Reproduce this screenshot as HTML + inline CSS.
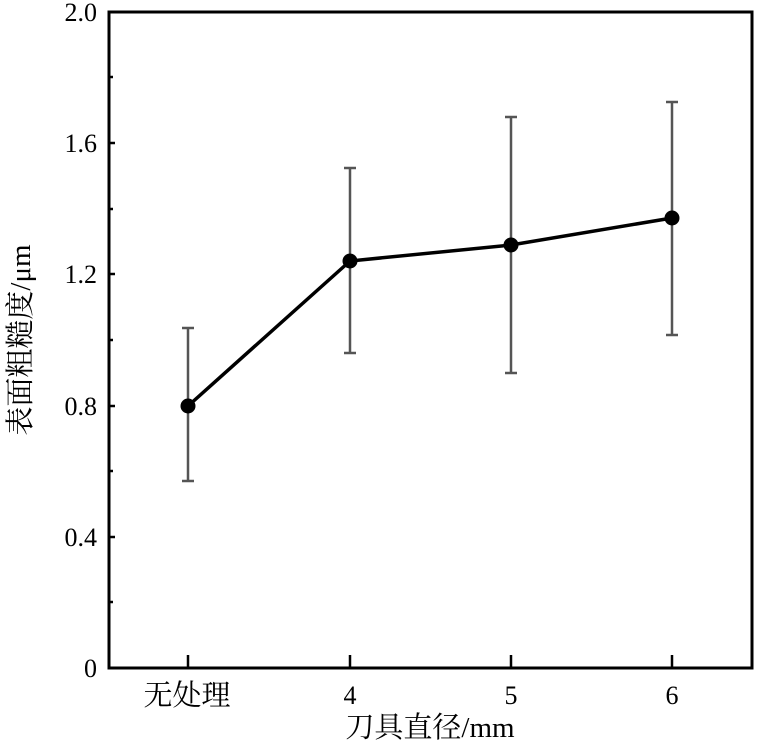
<!DOCTYPE html><html><head><style>body{margin:0;background:#fff}</style></head><body>
<svg width="768" height="744" xmlns="http://www.w3.org/2000/svg" font-family="'Liberation Serif','Noto Serif CJK SC',serif">
<rect x="109" y="12" width="643" height="656" fill="none" stroke="#000" stroke-width="3"/>
<g stroke="#000" stroke-width="2.5">
<line x1="188" y1="668" x2="188" y2="655"/><line x1="350" y1="668" x2="350" y2="655"/><line x1="511" y1="668" x2="511" y2="655"/><line x1="672" y1="668" x2="672" y2="655"/>
<line x1="109" y1="602" x2="113" y2="602"/><line x1="109" y1="537" x2="115" y2="537"/><line x1="109" y1="471" x2="113" y2="471"/><line x1="109" y1="406" x2="115" y2="406"/><line x1="109" y1="340" x2="113" y2="340"/><line x1="109" y1="274" x2="115" y2="274"/><line x1="109" y1="209" x2="113" y2="209"/><line x1="109" y1="143" x2="115" y2="143"/><line x1="109" y1="77" x2="113" y2="77"/>
</g>
<g stroke="#555" stroke-width="2.5">
<line x1="188" y1="328" x2="188" y2="481"/><line x1="182" y1="328" x2="194" y2="328"/><line x1="182" y1="481" x2="194" y2="481"/>
<line x1="350" y1="168" x2="350" y2="353"/><line x1="344" y1="168" x2="356" y2="168"/><line x1="344" y1="353" x2="356" y2="353"/>
<line x1="511" y1="117" x2="511" y2="373"/><line x1="505" y1="117" x2="517" y2="117"/><line x1="505" y1="373" x2="517" y2="373"/>
<line x1="672" y1="102" x2="672" y2="335"/><line x1="666" y1="102" x2="678" y2="102"/><line x1="666" y1="335" x2="678" y2="335"/>
</g>
<polyline points="188,406 350,261 511,245 672,218" fill="none" stroke="#000" stroke-width="3.5"/>
<g fill="#000"><circle cx="188" cy="406" r="7.5"/><circle cx="350" cy="261" r="7.5"/><circle cx="511" cy="245" r="7.5"/><circle cx="672" cy="218" r="7.5"/></g>
<g font-size="26" text-anchor="end">
<text x="97" y="677">0</text><text x="97" y="546">0.4</text><text x="97" y="415">0.8</text><text x="97" y="283">1.2</text><text x="97" y="152">1.6</text><text x="97" y="21">2.0</text>
</g>
<g font-size="26" text-anchor="middle">
<text x="350" y="704">4</text><text x="511" y="704">5</text><text x="672" y="704">6</text>
</g>
<g font-size="29" text-anchor="middle">
<text x="187" y="705">无处理</text>
<text x="430" y="737">刀具直径/mm</text>
<text transform="translate(30,340) rotate(-90)">表面粗糙度/μm</text>
</g>
</svg></body></html>
